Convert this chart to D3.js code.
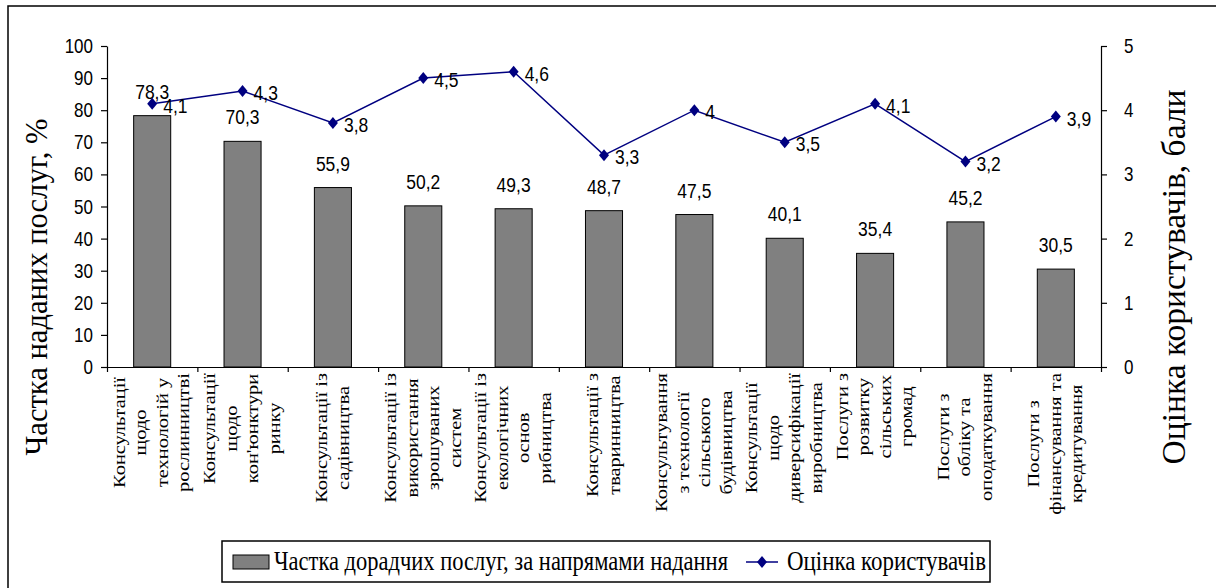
<!DOCTYPE html>
<html>
<head>
<meta charset="utf-8">
<script src="https://cdn.jsdelivr.net/npm/d3@7"></script>
<style>
  html, body { margin: 0; padding: 0; background: #fff; }
  svg { display: block; }
</style>
</head>
<body>
<svg id="chart" width="1216" height="588"></svg>
<script>
const categoryLines = [
  ["Консультації", "щодо", "технологій у", "рослинництві"],
  ["Консультації", "щодо", "кон'юнктури", "ринку"],
  ["Консультації із", "садівництва"],
  ["Консультації із", "використання", "зрошуваних", "систем"],
  ["Консультації із", "екологічних", "основ", "рибництва"],
  ["Консультації з", "тваринництва"],
  ["Консультування", "з технології", "сільського", "будівництва"],
  ["Консультації", "щодо", "диверсифікації", "виробництва"],
  ["Послуги з", "розвитку", "сільських", "громад"],
  ["Послуги з", "обліку та", "оподаткування"],
  ["Послуги з", "фінансування та", "кредитування"]
];
const shareValues = [78.3, 70.3, 55.9, 50.2, 49.3, 48.7, 47.5, 40.1, 35.4, 45.2, 30.5];
const ratingValues = [4.1, 4.3, 3.8, 4.5, 4.6, 3.3, 4.0, 3.5, 4.1, 3.2, 3.9];
const leftTicks = [0, 10, 20, 30, 40, 50, 60, 70, 80, 90, 100];
const rightTicks = [0, 1, 2, 3, 4, 5];
const leftTitle = "Частка наданих послуг, %";
const rightTitle = "Оцінка користувачів, бали";
const legendBar = "Частка дорадчих послуг, за напрямами надання";
const legendLine = "Оцінка користувачів";

const fmt = v => String(v).replace(".", ",");
const SANS = "Arial, 'Liberation Sans', sans-serif";
const SERIF = "'Times New Roman', 'Liberation Serif', serif";
const STRETCH = 1.2;

const svg = d3.select("#chart");
const L = 107, R = 1101, T = 46, B = 367;

// outer frame
svg.append("rect").attr("x", 8).attr("y", 6).attr("width", 1400).attr("height", 800)
  .attr("fill", "none").attr("stroke", "#000").attr("stroke-width", 1.5);

const idx = d3.range(shareValues.length);
const x = d3.scaleBand().domain(idx).range([L, R]).paddingInner(0).paddingOuter(0);
const xb = d3.scaleLinear().domain([0, shareValues.length]).range([L, R]);
const yL = d3.scaleLinear().domain([0, 100]).range([B, T]);
const yR = d3.scaleLinear().domain([0, 5]).range([B, T]);

// bars
const barW = x.bandwidth() * 0.41;
svg.append("g").selectAll("rect").data(shareValues).join("rect")
  .attr("x", (d, i) => x(i) + x.bandwidth() / 2 - barW / 2)
  .attr("y", d => yL(d))
  .attr("width", barW)
  .attr("height", d => yL(0) - yL(d))
  .attr("fill", "#808080").attr("stroke", "#000").attr("stroke-width", 1);

// axes
function styleAxis(g) {
  g.select(".domain").attr("stroke", "#000").attr("stroke-width", 1.2);
  g.selectAll(".tick line").attr("stroke", "#000").attr("stroke-width", 1.2);
  g.selectAll(".tick text").attr("font-family", SANS).attr("font-size", 17).attr("fill", "#000")
    .attr("transform", `scale(1,${STRETCH})`);
}
svg.append("g").attr("transform", `translate(${L},0)`)
  .call(d3.axisLeft(yL).tickValues(leftTicks).tickFormat(d3.format("d")).tickSize(6).tickSizeOuter(0).tickPadding(8))
  .call(styleAxis);
svg.append("g").attr("transform", `translate(${R},0)`)
  .call(d3.axisRight(yR).tickValues(rightTicks).tickFormat(d3.format("d")).tickSize(6).tickSizeOuter(0).tickPadding(17))
  .call(styleAxis);
svg.append("g").attr("transform", `translate(0,${B})`)
  .call(d3.axisBottom(xb).tickValues(d3.range(0, shareValues.length + 1)).tickFormat("").tickSize(5).tickSizeOuter(0))
  .call(styleAxis);

// bar value labels
svg.append("g").selectAll("text").data(shareValues).join("text")
  .attr("transform", (d, i) => `translate(${x(i) + x.bandwidth() / 2},${yL(d) - 17}) scale(1,${STRETCH})`)
  .attr("text-anchor", "middle").attr("font-family", SANS).attr("font-size", 17.5)
  .text(d => fmt(d));

// line
const cx = i => x(i) + x.bandwidth() / 2;
svg.append("path").datum(ratingValues)
  .attr("d", d3.line().x((d, i) => cx(i)).y(d => yR(d)))
  .attr("fill", "none").attr("stroke", "#000080").attr("stroke-width", 1.5);
svg.append("g").selectAll("path").data(ratingValues).join("path")
  .attr("d", (d, i) => {
    const px = cx(i), py = yR(d);
    return `M${px},${py - 6}L${px + 5},${py}L${px},${py + 6}L${px - 5},${py}Z`;
  })
  .attr("fill", "#000080");
svg.append("g").selectAll("text").data(ratingValues).join("text")
  .attr("transform", (d, i) => `translate(${cx(i) + 11},${yR(d) + 9}) scale(1,${STRETCH})`)
  .attr("font-family", SANS).attr("font-size", 17.5)
  .text(d => fmt(d));

// category labels
const LH = 21.5;
categoryLines.forEach((lines, i) => {
  const g = svg.append("g")
    .attr("transform", `translate(${cx(i) - 1},${B + 6}) rotate(-90) scale(${STRETCH},1)`);
  const texts = g.selectAll("text").data(lines).join("text")
    .attr("font-family", SERIF).attr("font-size", 17).attr("text-anchor", "middle")
    .text(d => d);
  let maxLen = 0;
  texts.each(function () { maxLen = Math.max(maxLen, this.getComputedTextLength()); });
  const n = lines.length;
  texts.attr("x", -maxLen / 2)
    .attr("y", (d, j) => (j - (n - 1) / 2) * LH + 6);
});

// axis titles
svg.append("text")
  .attr("transform", `translate(47,287) rotate(-90)`)
  .attr("text-anchor", "middle").attr("font-family", SERIF).attr("font-size", 32)
  .attr("textLength", 337).attr("lengthAdjust", "spacingAndGlyphs")
  .text(leftTitle);
svg.append("text")
  .attr("transform", `translate(1185,277) rotate(-90)`)
  .attr("text-anchor", "middle").attr("font-family", SERIF).attr("font-size", 33)
  .attr("textLength", 375).attr("lengthAdjust", "spacingAndGlyphs")
  .text(rightTitle);

// legend
const lg = svg.append("g");
lg.append("rect").attr("x", 222).attr("y", 541).attr("width", 768).attr("height", 41)
  .attr("fill", "#fff").attr("stroke", "#000").attr("stroke-width", 1.5);
lg.append("rect").attr("x", 233).attr("y", 555).attr("width", 36).attr("height", 14)
  .attr("fill", "#808080").attr("stroke", "#000").attr("stroke-width", 1);
lg.append("text").attr("transform", "translate(274,570) scale(1,1.12)")
  .attr("font-family", SERIF).attr("font-size", 24)
  .attr("textLength", 454).attr("lengthAdjust", "spacingAndGlyphs")
  .text(legendBar);
lg.append("line").attr("x1", 746).attr("x2", 778).attr("y1", 562).attr("y2", 562)
  .attr("stroke", "#000080").attr("stroke-width", 1.5);
lg.append("path").attr("d", "M762,556L767,562L762,568L757,562Z").attr("fill", "#000080");
lg.append("text").attr("transform", "translate(787,570) scale(1,1.12)")
  .attr("font-family", SERIF).attr("font-size", 24)
  .attr("textLength", 199).attr("lengthAdjust", "spacingAndGlyphs")
  .text(legendLine);
</script>
</body>
</html>
